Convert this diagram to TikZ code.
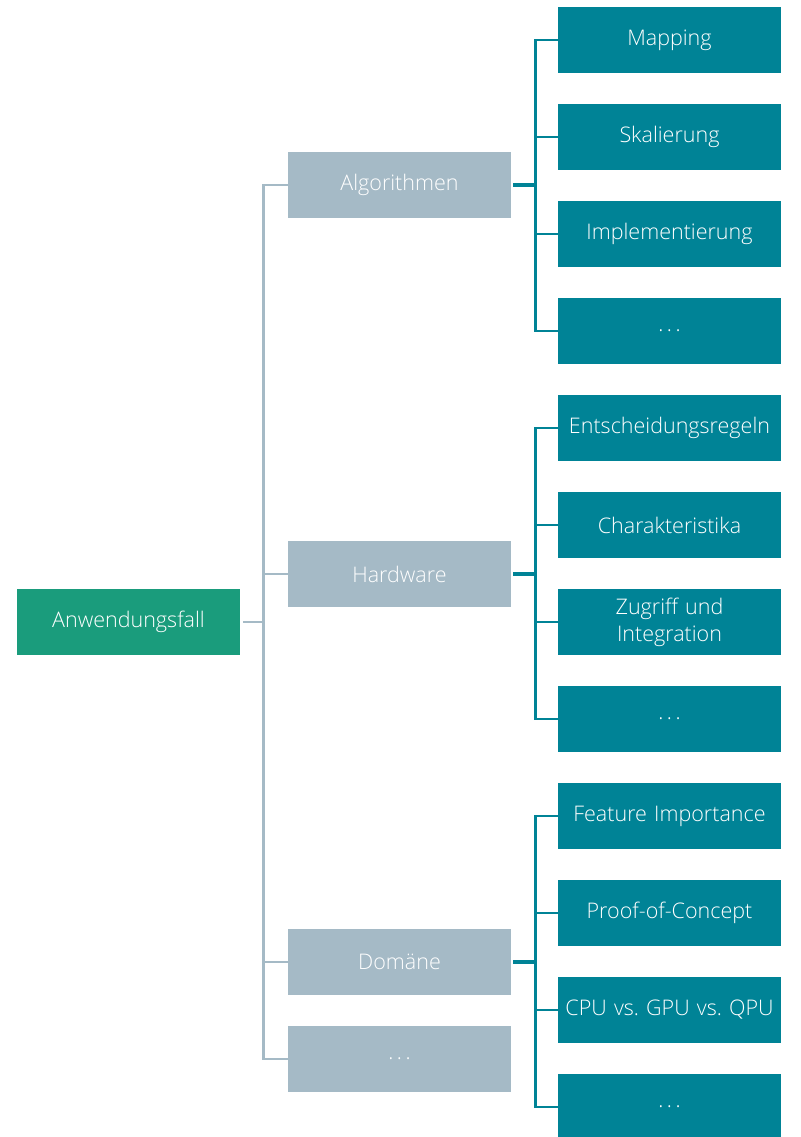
\documentclass[tikz,border=0pt]{standalone}
\usepackage{fontspec}
\setmainfont{Open Sans Light}
\frenchspacing
\newcommand{\wdots}{.\hspace{3.5pt}.\hspace{3.5pt}.}
\definecolor{rootc}{HTML}{1A9C7C}
\definecolor{midc}{HTML}{A5BAC6}
\definecolor{leafc}{HTML}{008396}
\begin{document}
\begin{tikzpicture}[x=1pt,y=-1pt,
  box/.style={minimum width=223pt,minimum height=66pt,inner sep=0pt,text=white,font=\fontsize{21.5}{27}\selectfont, align=center, text width=221pt},
  rootbox/.style={box,fill=rootc},
  midbox/.style={box,fill=midc},
  leafbox/.style={box,fill=leafc},
  gline/.style={draw=midc,line width=2.8pt},
  tline/.style={draw=leafc,line width=2.8pt},
  tstub/.style={draw=leafc,line width=3.8pt}]
\useasboundingbox (0,0) rectangle (800,1137);
\node[rootbox] (root) at (128.5,622) {\raisebox{-2pt}{Anwendungsfall}};
\node[midbox] (alg) at (399.5,185) {\raisebox{-2pt}{Algorithmen}};
\node[midbox] (hw) at (399.5,574) {\raisebox{-2pt}{Hardware}};
\node[midbox] (dom) at (399.5,962) {\raisebox{-2pt}{Domäne}};
\node[midbox] (mdots) at (399.5,1059) {\raisebox{-2pt}{\wdots}};
\foreach \n/\y/\t in {a1/40/Mapping,a2/137/Skalierung,a3/234/Implementierung,a4/331/\wdots,
  h1/428/Entscheidungsregeln,h2/525/Charakteristika,h4/719/\wdots,
  d1/816/Feature Importance,d2/913/Proof-of-Concept,d3/1010/CPU vs. GPU vs. QPU,d4/1107/\wdots}
  \node[leafbox] (\n) at (669.5,\y) {\raisebox{-2pt}{\t}};
\node[leafbox] (h3) at (669.5,622) {Zugriff und\\Integration};
\foreach \c in {alg,hw,dom,mdots}
  \draw[gline] ([xshift=3pt]root.east) -- ++(20,0) |- (\c.west);
\foreach \p/\k in {alg/a,hw/h,dom/d}{
  \foreach \i in {1,2,3,4}
    \draw[tline] ([xshift=2pt]\p.east) ++(22,0) |- (\k\i.west);
  \draw[tstub] ([xshift=2pt]\p.east) -- ++(23,0);
}
\end{tikzpicture}
\end{document}
